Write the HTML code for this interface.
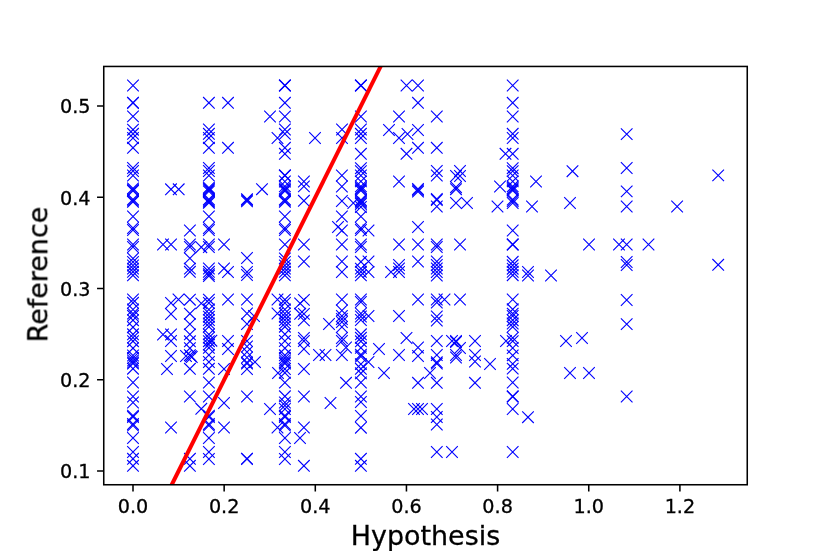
<!DOCTYPE html>
<html><head><meta charset="utf-8"><title>Hypothesis vs Reference</title>
<style>
html,body{margin:0;padding:0;background:#fff;}
svg{display:block;}
text{font-family:"DejaVu Sans","Liberation Sans",sans-serif;fill:#000;stroke:#000;stroke-width:0.3px;}
</style></head>
<body>
<svg width="830" height="554" viewBox="0 0 830 554">
<rect width="830" height="554" fill="#fff"/>
<clipPath id="ax"><rect x="103.75" y="66.45" width="643.5" height="418.3"/></clipPath>
<g clip-path="url(#ax)">
<g fill="none" stroke="#0000ff" stroke-width="1.12">
<path d="M127.2 79.7l11.6 11.6m-11.6 0l11.6 -11.6"/>
<path d="M127.2 96.8l11.6 11.6m-11.6 0l11.6 -11.6"/>
<path d="M127.2 97.2l11.6 11.6m-11.6 0l11.6 -11.6"/>
<path d="M127.2 110.6l11.6 11.6m-11.6 0l11.6 -11.6"/>
<path d="M127.2 123.9l11.6 11.6m-11.6 0l11.6 -11.6"/>
<path d="M127.2 128.0l11.6 11.6m-11.6 0l11.6 -11.6"/>
<path d="M127.2 132.2l11.6 11.6m-11.6 0l11.6 -11.6"/>
<path d="M127.2 142.0l11.6 11.6m-11.6 0l11.6 -11.6"/>
<path d="M127.2 162.2l11.6 11.6m-11.6 0l11.6 -11.6"/>
<path d="M127.2 165.2l11.6 11.6m-11.6 0l11.6 -11.6"/>
<path d="M127.2 169.7l11.6 11.6m-11.6 0l11.6 -11.6"/>
<path d="M127.2 182.6l11.6 11.6m-11.6 0l11.6 -11.6"/>
<path d="M127.2 183.8l11.6 11.6m-11.6 0l11.6 -11.6"/>
<path d="M127.2 185.0l11.6 11.6m-11.6 0l11.6 -11.6"/>
<path d="M127.2 193.6l11.6 11.6m-11.6 0l11.6 -11.6"/>
<path d="M127.2 194.8l11.6 11.6m-11.6 0l11.6 -11.6"/>
<path d="M127.2 196.0l11.6 11.6m-11.6 0l11.6 -11.6"/>
<path d="M127.2 210.7l11.6 11.6m-11.6 0l11.6 -11.6"/>
<path d="M127.2 222.2l11.6 11.6m-11.6 0l11.6 -11.6"/>
<path d="M127.2 224.2l11.6 11.6m-11.6 0l11.6 -11.6"/>
<path d="M127.2 238.7l11.6 11.6m-11.6 0l11.6 -11.6"/>
<path d="M127.2 241.2l11.6 11.6m-11.6 0l11.6 -11.6"/>
<path d="M127.2 252.7l11.6 11.6m-11.6 0l11.6 -11.6"/>
<path d="M127.2 256.2l11.6 11.6m-11.6 0l11.6 -11.6"/>
<path d="M127.2 259.7l11.6 11.6m-11.6 0l11.6 -11.6"/>
<path d="M127.2 262.8l11.6 11.6m-11.6 0l11.6 -11.6"/>
<path d="M127.2 266.0l11.6 11.6m-11.6 0l11.6 -11.6"/>
<path d="M127.2 269.5l11.6 11.6m-11.6 0l11.6 -11.6"/>
<path d="M127.2 293.7l11.6 11.6m-11.6 0l11.6 -11.6"/>
<path d="M127.2 297.0l11.6 11.6m-11.6 0l11.6 -11.6"/>
<path d="M127.2 303.7l11.6 11.6m-11.6 0l11.6 -11.6"/>
<path d="M127.2 307.8l11.6 11.6m-11.6 0l11.6 -11.6"/>
<path d="M127.2 310.0l11.6 11.6m-11.6 0l11.6 -11.6"/>
<path d="M127.2 314.4l11.6 11.6m-11.6 0l11.6 -11.6"/>
<path d="M127.2 321.4l11.6 11.6m-11.6 0l11.6 -11.6"/>
<path d="M127.2 328.5l11.6 11.6m-11.6 0l11.6 -11.6"/>
<path d="M127.2 331.8l11.6 11.6m-11.6 0l11.6 -11.6"/>
<path d="M127.2 335.4l11.6 11.6m-11.6 0l11.6 -11.6"/>
<path d="M127.2 342.4l11.6 11.6m-11.6 0l11.6 -11.6"/>
<path d="M127.2 349.7l11.6 11.6m-11.6 0l11.6 -11.6"/>
<path d="M127.2 352.2l11.6 11.6m-11.6 0l11.6 -11.6"/>
<path d="M127.2 354.7l11.6 11.6m-11.6 0l11.6 -11.6"/>
<path d="M127.2 356.7l11.6 11.6m-11.6 0l11.6 -11.6"/>
<path d="M127.2 357.7l11.6 11.6m-11.6 0l11.6 -11.6"/>
<path d="M127.2 362.9l11.6 11.6m-11.6 0l11.6 -11.6"/>
<path d="M127.2 376.7l11.6 11.6m-11.6 0l11.6 -11.6"/>
<path d="M127.2 390.7l11.6 11.6m-11.6 0l11.6 -11.6"/>
<path d="M127.2 396.7l11.6 11.6m-11.6 0l11.6 -11.6"/>
<path d="M127.2 409.9l11.6 11.6m-11.6 0l11.6 -11.6"/>
<path d="M127.2 411.2l11.6 11.6m-11.6 0l11.6 -11.6"/>
<path d="M127.2 418.2l11.6 11.6m-11.6 0l11.6 -11.6"/>
<path d="M127.2 419.7l11.6 11.6m-11.6 0l11.6 -11.6"/>
<path d="M127.2 432.2l11.6 11.6m-11.6 0l11.6 -11.6"/>
<path d="M127.2 446.2l11.6 11.6m-11.6 0l11.6 -11.6"/>
<path d="M127.2 453.0l11.6 11.6m-11.6 0l11.6 -11.6"/>
<path d="M127.2 460.0l11.6 11.6m-11.6 0l11.6 -11.6"/>
<path d="M165.2 183.5l11.6 11.6m-11.6 0l11.6 -11.6"/>
<path d="M172.9 183.5l11.6 11.6m-11.6 0l11.6 -11.6"/>
<path d="M157.2 238.7l11.6 11.6m-11.6 0l11.6 -11.6"/>
<path d="M165.2 238.7l11.6 11.6m-11.6 0l11.6 -11.6"/>
<path d="M165.2 297.2l11.6 11.6m-11.6 0l11.6 -11.6"/>
<path d="M165.2 308.2l11.6 11.6m-11.6 0l11.6 -11.6"/>
<path d="M172.7 293.7l11.6 11.6m-11.6 0l11.6 -11.6"/>
<path d="M157.2 328.7l11.6 11.6m-11.6 0l11.6 -11.6"/>
<path d="M165.2 328.7l11.6 11.6m-11.6 0l11.6 -11.6"/>
<path d="M165.2 335.2l11.6 11.6m-11.6 0l11.6 -11.6"/>
<path d="M165.2 350.2l11.6 11.6m-11.6 0l11.6 -11.6"/>
<path d="M161.2 363.2l11.6 11.6m-11.6 0l11.6 -11.6"/>
<path d="M165.2 421.7l11.6 11.6m-11.6 0l11.6 -11.6"/>
<path d="M184.1 224.7l11.6 11.6m-11.6 0l11.6 -11.6"/>
<path d="M184.1 238.7l11.6 11.6m-11.6 0l11.6 -11.6"/>
<path d="M184.1 241.2l11.6 11.6m-11.6 0l11.6 -11.6"/>
<path d="M184.1 252.5l11.6 11.6m-11.6 0l11.6 -11.6"/>
<path d="M184.1 262.8l11.6 11.6m-11.6 0l11.6 -11.6"/>
<path d="M184.1 266.0l11.6 11.6m-11.6 0l11.6 -11.6"/>
<path d="M184.1 293.9l11.6 11.6m-11.6 0l11.6 -11.6"/>
<path d="M184.1 307.9l11.6 11.6m-11.6 0l11.6 -11.6"/>
<path d="M184.1 318.3l11.6 11.6m-11.6 0l11.6 -11.6"/>
<path d="M184.1 328.6l11.6 11.6m-11.6 0l11.6 -11.6"/>
<path d="M184.1 335.5l11.6 11.6m-11.6 0l11.6 -11.6"/>
<path d="M184.1 342.4l11.6 11.6m-11.6 0l11.6 -11.6"/>
<path d="M184.1 349.4l11.6 11.6m-11.6 0l11.6 -11.6"/>
<path d="M184.1 363.0l11.6 11.6m-11.6 0l11.6 -11.6"/>
<path d="M184.1 390.7l11.6 11.6m-11.6 0l11.6 -11.6"/>
<path d="M184.1 453.0l11.6 11.6m-11.6 0l11.6 -11.6"/>
<path d="M184.1 460.0l11.6 11.6m-11.6 0l11.6 -11.6"/>
<path d="M180.2 350.2l11.6 11.6m-11.6 0l11.6 -11.6"/>
<path d="M185.1 350.3l11.6 11.6m-11.6 0l11.6 -11.6"/>
<path d="M186.0 351.2l11.6 11.6m-11.6 0l11.6 -11.6"/>
<path d="M195.5 297.6l11.6 11.6m-11.6 0l11.6 -11.6"/>
<path d="M195.5 241.4l11.6 11.6m-11.6 0l11.6 -11.6"/>
<path d="M195.5 403.0l11.6 11.6m-11.6 0l11.6 -11.6"/>
<path d="M203.1 97.0l11.6 11.6m-11.6 0l11.6 -11.6"/>
<path d="M203.1 123.7l11.6 11.6m-11.6 0l11.6 -11.6"/>
<path d="M203.1 128.0l11.6 11.6m-11.6 0l11.6 -11.6"/>
<path d="M203.1 132.2l11.6 11.6m-11.6 0l11.6 -11.6"/>
<path d="M203.1 142.0l11.6 11.6m-11.6 0l11.6 -11.6"/>
<path d="M203.1 162.2l11.6 11.6m-11.6 0l11.6 -11.6"/>
<path d="M203.1 165.2l11.6 11.6m-11.6 0l11.6 -11.6"/>
<path d="M203.1 169.7l11.6 11.6m-11.6 0l11.6 -11.6"/>
<path d="M203.1 181.9l11.6 11.6m-11.6 0l11.6 -11.6"/>
<path d="M203.1 183.1l11.6 11.6m-11.6 0l11.6 -11.6"/>
<path d="M203.1 184.3l11.6 11.6m-11.6 0l11.6 -11.6"/>
<path d="M203.1 185.6l11.6 11.6m-11.6 0l11.6 -11.6"/>
<path d="M203.1 193.5l11.6 11.6m-11.6 0l11.6 -11.6"/>
<path d="M203.1 194.7l11.6 11.6m-11.6 0l11.6 -11.6"/>
<path d="M203.1 195.9l11.6 11.6m-11.6 0l11.6 -11.6"/>
<path d="M203.1 197.1l11.6 11.6m-11.6 0l11.6 -11.6"/>
<path d="M203.1 210.7l11.6 11.6m-11.6 0l11.6 -11.6"/>
<path d="M203.1 222.2l11.6 11.6m-11.6 0l11.6 -11.6"/>
<path d="M203.1 224.2l11.6 11.6m-11.6 0l11.6 -11.6"/>
<path d="M203.1 238.7l11.6 11.6m-11.6 0l11.6 -11.6"/>
<path d="M203.1 241.2l11.6 11.6m-11.6 0l11.6 -11.6"/>
<path d="M203.1 262.7l11.6 11.6m-11.6 0l11.6 -11.6"/>
<path d="M203.1 266.0l11.6 11.6m-11.6 0l11.6 -11.6"/>
<path d="M203.1 268.5l11.6 11.6m-11.6 0l11.6 -11.6"/>
<path d="M203.1 270.2l11.6 11.6m-11.6 0l11.6 -11.6"/>
<path d="M203.1 293.9l11.6 11.6m-11.6 0l11.6 -11.6"/>
<path d="M203.1 297.2l11.6 11.6m-11.6 0l11.6 -11.6"/>
<path d="M203.1 303.7l11.6 11.6m-11.6 0l11.6 -11.6"/>
<path d="M203.1 307.7l11.6 11.6m-11.6 0l11.6 -11.6"/>
<path d="M203.1 310.9l11.6 11.6m-11.6 0l11.6 -11.6"/>
<path d="M203.1 314.2l11.6 11.6m-11.6 0l11.6 -11.6"/>
<path d="M203.1 317.6l11.6 11.6m-11.6 0l11.6 -11.6"/>
<path d="M203.1 320.9l11.6 11.6m-11.6 0l11.6 -11.6"/>
<path d="M203.1 328.6l11.6 11.6m-11.6 0l11.6 -11.6"/>
<path d="M203.1 331.8l11.6 11.6m-11.6 0l11.6 -11.6"/>
<path d="M203.1 335.4l11.6 11.6m-11.6 0l11.6 -11.6"/>
<path d="M203.1 338.7l11.6 11.6m-11.6 0l11.6 -11.6"/>
<path d="M203.1 342.0l11.6 11.6m-11.6 0l11.6 -11.6"/>
<path d="M203.1 349.2l11.6 11.6m-11.6 0l11.6 -11.6"/>
<path d="M203.1 356.2l11.6 11.6m-11.6 0l11.6 -11.6"/>
<path d="M203.1 363.0l11.6 11.6m-11.6 0l11.6 -11.6"/>
<path d="M203.1 376.7l11.6 11.6m-11.6 0l11.6 -11.6"/>
<path d="M203.1 390.7l11.6 11.6m-11.6 0l11.6 -11.6"/>
<path d="M203.1 409.9l11.6 11.6m-11.6 0l11.6 -11.6"/>
<path d="M203.1 411.2l11.6 11.6m-11.6 0l11.6 -11.6"/>
<path d="M203.1 418.2l11.6 11.6m-11.6 0l11.6 -11.6"/>
<path d="M203.1 419.7l11.6 11.6m-11.6 0l11.6 -11.6"/>
<path d="M203.1 432.2l11.6 11.6m-11.6 0l11.6 -11.6"/>
<path d="M203.1 446.2l11.6 11.6m-11.6 0l11.6 -11.6"/>
<path d="M203.1 453.2l11.6 11.6m-11.6 0l11.6 -11.6"/>
<path d="M205.6 334.9l11.6 11.6m-11.6 0l11.6 -11.6"/>
<path d="M222.2 97.0l11.6 11.6m-11.6 0l11.6 -11.6"/>
<path d="M264.2 110.7l11.6 11.6m-11.6 0l11.6 -11.6"/>
<path d="M222.2 142.0l11.6 11.6m-11.6 0l11.6 -11.6"/>
<path d="M271.7 132.2l11.6 11.6m-11.6 0l11.6 -11.6"/>
<path d="M241.2 193.4l11.6 11.6m-11.6 0l11.6 -11.6"/>
<path d="M241.2 194.5l11.6 11.6m-11.6 0l11.6 -11.6"/>
<path d="M241.2 195.6l11.6 11.6m-11.6 0l11.6 -11.6"/>
<path d="M256.2 183.4l11.6 11.6m-11.6 0l11.6 -11.6"/>
<path d="M218.2 238.7l11.6 11.6m-11.6 0l11.6 -11.6"/>
<path d="M241.2 252.2l11.6 11.6m-11.6 0l11.6 -11.6"/>
<path d="M218.2 262.7l11.6 11.6m-11.6 0l11.6 -11.6"/>
<path d="M222.2 266.2l11.6 11.6m-11.6 0l11.6 -11.6"/>
<path d="M241.2 266.2l11.6 11.6m-11.6 0l11.6 -11.6"/>
<path d="M241.2 269.2l11.6 11.6m-11.6 0l11.6 -11.6"/>
<path d="M222.2 293.7l11.6 11.6m-11.6 0l11.6 -11.6"/>
<path d="M241.2 293.7l11.6 11.6m-11.6 0l11.6 -11.6"/>
<path d="M241.2 307.7l11.6 11.6m-11.6 0l11.6 -11.6"/>
<path d="M241.2 318.2l11.6 11.6m-11.6 0l11.6 -11.6"/>
<path d="M248.2 310.2l11.6 11.6m-11.6 0l11.6 -11.6"/>
<path d="M222.2 335.2l11.6 11.6m-11.6 0l11.6 -11.6"/>
<path d="M241.2 335.2l11.6 11.6m-11.6 0l11.6 -11.6"/>
<path d="M222.2 343.2l11.6 11.6m-11.6 0l11.6 -11.6"/>
<path d="M218.2 363.2l11.6 11.6m-11.6 0l11.6 -11.6"/>
<path d="M241.2 340.7l11.6 11.6m-11.6 0l11.6 -11.6"/>
<path d="M241.2 346.2l11.6 11.6m-11.6 0l11.6 -11.6"/>
<path d="M241.2 351.7l11.6 11.6m-11.6 0l11.6 -11.6"/>
<path d="M241.2 356.7l11.6 11.6m-11.6 0l11.6 -11.6"/>
<path d="M241.2 357.7l11.6 11.6m-11.6 0l11.6 -11.6"/>
<path d="M241.2 363.2l11.6 11.6m-11.6 0l11.6 -11.6"/>
<path d="M249.2 356.2l11.6 11.6m-11.6 0l11.6 -11.6"/>
<path d="M272.2 367.2l11.6 11.6m-11.6 0l11.6 -11.6"/>
<path d="M218.2 397.2l11.6 11.6m-11.6 0l11.6 -11.6"/>
<path d="M241.2 390.7l11.6 11.6m-11.6 0l11.6 -11.6"/>
<path d="M264.2 403.2l11.6 11.6m-11.6 0l11.6 -11.6"/>
<path d="M218.2 421.7l11.6 11.6m-11.6 0l11.6 -11.6"/>
<path d="M241.2 452.8l11.6 11.6m-11.6 0l11.6 -11.6"/>
<path d="M241.2 453.2l11.6 11.6m-11.6 0l11.6 -11.6"/>
<path d="M271.7 421.7l11.6 11.6m-11.6 0l11.6 -11.6"/>
<path d="M271.7 293.7l11.6 11.6m-11.6 0l11.6 -11.6"/>
<path d="M271.7 307.7l11.6 11.6m-11.6 0l11.6 -11.6"/>
<path d="M279.1 79.5l11.6 11.6m-11.6 0l11.6 -11.6"/>
<path d="M279.1 79.9l11.6 11.6m-11.6 0l11.6 -11.6"/>
<path d="M279.1 97.0l11.6 11.6m-11.6 0l11.6 -11.6"/>
<path d="M279.1 110.7l11.6 11.6m-11.6 0l11.6 -11.6"/>
<path d="M279.1 123.7l11.6 11.6m-11.6 0l11.6 -11.6"/>
<path d="M279.1 128.0l11.6 11.6m-11.6 0l11.6 -11.6"/>
<path d="M279.1 142.0l11.6 11.6m-11.6 0l11.6 -11.6"/>
<path d="M279.1 148.0l11.6 11.6m-11.6 0l11.6 -11.6"/>
<path d="M279.1 169.5l11.6 11.6m-11.6 0l11.6 -11.6"/>
<path d="M279.1 169.9l11.6 11.6m-11.6 0l11.6 -11.6"/>
<path d="M279.1 175.7l11.6 11.6m-11.6 0l11.6 -11.6"/>
<path d="M279.1 180.6l11.6 11.6m-11.6 0l11.6 -11.6"/>
<path d="M279.1 182.7l11.6 11.6m-11.6 0l11.6 -11.6"/>
<path d="M279.1 184.0l11.6 11.6m-11.6 0l11.6 -11.6"/>
<path d="M279.1 185.3l11.6 11.6m-11.6 0l11.6 -11.6"/>
<path d="M279.1 193.6l11.6 11.6m-11.6 0l11.6 -11.6"/>
<path d="M279.1 194.8l11.6 11.6m-11.6 0l11.6 -11.6"/>
<path d="M279.1 196.0l11.6 11.6m-11.6 0l11.6 -11.6"/>
<path d="M279.1 210.7l11.6 11.6m-11.6 0l11.6 -11.6"/>
<path d="M279.1 222.2l11.6 11.6m-11.6 0l11.6 -11.6"/>
<path d="M279.1 224.2l11.6 11.6m-11.6 0l11.6 -11.6"/>
<path d="M279.1 238.7l11.6 11.6m-11.6 0l11.6 -11.6"/>
<path d="M279.1 252.7l11.6 11.6m-11.6 0l11.6 -11.6"/>
<path d="M279.1 256.2l11.6 11.6m-11.6 0l11.6 -11.6"/>
<path d="M279.1 259.7l11.6 11.6m-11.6 0l11.6 -11.6"/>
<path d="M279.1 262.8l11.6 11.6m-11.6 0l11.6 -11.6"/>
<path d="M279.1 266.0l11.6 11.6m-11.6 0l11.6 -11.6"/>
<path d="M279.1 269.5l11.6 11.6m-11.6 0l11.6 -11.6"/>
<path d="M279.1 293.9l11.6 11.6m-11.6 0l11.6 -11.6"/>
<path d="M279.1 297.2l11.6 11.6m-11.6 0l11.6 -11.6"/>
<path d="M279.1 303.7l11.6 11.6m-11.6 0l11.6 -11.6"/>
<path d="M279.1 307.7l11.6 11.6m-11.6 0l11.6 -11.6"/>
<path d="M279.1 310.9l11.6 11.6m-11.6 0l11.6 -11.6"/>
<path d="M279.1 314.2l11.6 11.6m-11.6 0l11.6 -11.6"/>
<path d="M279.1 317.6l11.6 11.6m-11.6 0l11.6 -11.6"/>
<path d="M279.1 320.9l11.6 11.6m-11.6 0l11.6 -11.6"/>
<path d="M279.1 328.4l11.6 11.6m-11.6 0l11.6 -11.6"/>
<path d="M279.1 335.2l11.6 11.6m-11.6 0l11.6 -11.6"/>
<path d="M279.1 342.4l11.6 11.6m-11.6 0l11.6 -11.6"/>
<path d="M279.1 349.5l11.6 11.6m-11.6 0l11.6 -11.6"/>
<path d="M279.1 352.2l11.6 11.6m-11.6 0l11.6 -11.6"/>
<path d="M279.1 354.7l11.6 11.6m-11.6 0l11.6 -11.6"/>
<path d="M279.1 356.7l11.6 11.6m-11.6 0l11.6 -11.6"/>
<path d="M279.1 357.7l11.6 11.6m-11.6 0l11.6 -11.6"/>
<path d="M279.1 363.2l11.6 11.6m-11.6 0l11.6 -11.6"/>
<path d="M279.1 367.0l11.6 11.6m-11.6 0l11.6 -11.6"/>
<path d="M279.1 376.8l11.6 11.6m-11.6 0l11.6 -11.6"/>
<path d="M279.1 390.5l11.6 11.6m-11.6 0l11.6 -11.6"/>
<path d="M279.1 396.7l11.6 11.6m-11.6 0l11.6 -11.6"/>
<path d="M279.1 399.7l11.6 11.6m-11.6 0l11.6 -11.6"/>
<path d="M279.1 403.2l11.6 11.6m-11.6 0l11.6 -11.6"/>
<path d="M279.1 409.9l11.6 11.6m-11.6 0l11.6 -11.6"/>
<path d="M279.1 411.2l11.6 11.6m-11.6 0l11.6 -11.6"/>
<path d="M279.1 418.2l11.6 11.6m-11.6 0l11.6 -11.6"/>
<path d="M279.1 419.7l11.6 11.6m-11.6 0l11.6 -11.6"/>
<path d="M279.1 432.2l11.6 11.6m-11.6 0l11.6 -11.6"/>
<path d="M279.1 446.2l11.6 11.6m-11.6 0l11.6 -11.6"/>
<path d="M279.1 453.2l11.6 11.6m-11.6 0l11.6 -11.6"/>
<path d="M309.2 132.2l11.6 11.6m-11.6 0l11.6 -11.6"/>
<path d="M336.2 123.7l11.6 11.6m-11.6 0l11.6 -11.6"/>
<path d="M336.2 132.2l11.6 11.6m-11.6 0l11.6 -11.6"/>
<path d="M298.1 175.7l11.6 11.6m-11.6 0l11.6 -11.6"/>
<path d="M298.1 180.6l11.6 11.6m-11.6 0l11.6 -11.6"/>
<path d="M298.1 195.0l11.6 11.6m-11.6 0l11.6 -11.6"/>
<path d="M298.1 238.7l11.6 11.6m-11.6 0l11.6 -11.6"/>
<path d="M298.1 255.7l11.6 11.6m-11.6 0l11.6 -11.6"/>
<path d="M298.1 294.1l11.6 11.6m-11.6 0l11.6 -11.6"/>
<path d="M298.1 308.1l11.6 11.6m-11.6 0l11.6 -11.6"/>
<path d="M298.1 314.6l11.6 11.6m-11.6 0l11.6 -11.6"/>
<path d="M298.1 332.2l11.6 11.6m-11.6 0l11.6 -11.6"/>
<path d="M298.1 335.2l11.6 11.6m-11.6 0l11.6 -11.6"/>
<path d="M298.1 343.2l11.6 11.6m-11.6 0l11.6 -11.6"/>
<path d="M298.1 363.2l11.6 11.6m-11.6 0l11.6 -11.6"/>
<path d="M298.1 390.7l11.6 11.6m-11.6 0l11.6 -11.6"/>
<path d="M298.1 421.7l11.6 11.6m-11.6 0l11.6 -11.6"/>
<path d="M298.1 460.0l11.6 11.6m-11.6 0l11.6 -11.6"/>
<path d="M294.3 297.6l11.6 11.6m-11.6 0l11.6 -11.6"/>
<path d="M294.3 308.0l11.6 11.6m-11.6 0l11.6 -11.6"/>
<path d="M294.2 432.2l11.6 11.6m-11.6 0l11.6 -11.6"/>
<path d="M336.1 169.7l11.6 11.6m-11.6 0l11.6 -11.6"/>
<path d="M336.1 180.7l11.6 11.6m-11.6 0l11.6 -11.6"/>
<path d="M336.1 195.2l11.6 11.6m-11.6 0l11.6 -11.6"/>
<path d="M336.1 210.7l11.6 11.6m-11.6 0l11.6 -11.6"/>
<path d="M336.1 224.7l11.6 11.6m-11.6 0l11.6 -11.6"/>
<path d="M336.1 238.7l11.6 11.6m-11.6 0l11.6 -11.6"/>
<path d="M336.1 255.7l11.6 11.6m-11.6 0l11.6 -11.6"/>
<path d="M336.1 266.2l11.6 11.6m-11.6 0l11.6 -11.6"/>
<path d="M336.1 293.7l11.6 11.6m-11.6 0l11.6 -11.6"/>
<path d="M336.1 304.7l11.6 11.6m-11.6 0l11.6 -11.6"/>
<path d="M336.1 310.2l11.6 11.6m-11.6 0l11.6 -11.6"/>
<path d="M336.1 313.2l11.6 11.6m-11.6 0l11.6 -11.6"/>
<path d="M336.1 316.2l11.6 11.6m-11.6 0l11.6 -11.6"/>
<path d="M336.1 321.2l11.6 11.6m-11.6 0l11.6 -11.6"/>
<path d="M336.1 332.2l11.6 11.6m-11.6 0l11.6 -11.6"/>
<path d="M336.1 335.2l11.6 11.6m-11.6 0l11.6 -11.6"/>
<path d="M336.1 349.2l11.6 11.6m-11.6 0l11.6 -11.6"/>
<path d="M347.5 197.2l11.6 11.6m-11.6 0l11.6 -11.6"/>
<path d="M332.2 221.2l11.6 11.6m-11.6 0l11.6 -11.6"/>
<path d="M323.2 318.2l11.6 11.6m-11.6 0l11.6 -11.6"/>
<path d="M340.2 341.7l11.6 11.6m-11.6 0l11.6 -11.6"/>
<path d="M313.2 349.2l11.6 11.6m-11.6 0l11.6 -11.6"/>
<path d="M319.7 349.2l11.6 11.6m-11.6 0l11.6 -11.6"/>
<path d="M324.7 397.2l11.6 11.6m-11.6 0l11.6 -11.6"/>
<path d="M340.2 377.0l11.6 11.6m-11.6 0l11.6 -11.6"/>
<path d="M355.1 79.5l11.6 11.6m-11.6 0l11.6 -11.6"/>
<path d="M355.1 79.9l11.6 11.6m-11.6 0l11.6 -11.6"/>
<path d="M355.1 110.7l11.6 11.6m-11.6 0l11.6 -11.6"/>
<path d="M355.1 123.7l11.6 11.6m-11.6 0l11.6 -11.6"/>
<path d="M355.1 128.0l11.6 11.6m-11.6 0l11.6 -11.6"/>
<path d="M355.1 132.2l11.6 11.6m-11.6 0l11.6 -11.6"/>
<path d="M355.1 148.0l11.6 11.6m-11.6 0l11.6 -11.6"/>
<path d="M355.1 162.4l11.6 11.6m-11.6 0l11.6 -11.6"/>
<path d="M355.1 165.3l11.6 11.6m-11.6 0l11.6 -11.6"/>
<path d="M355.1 169.7l11.6 11.6m-11.6 0l11.6 -11.6"/>
<path d="M355.1 175.6l11.6 11.6m-11.6 0l11.6 -11.6"/>
<path d="M355.1 180.6l11.6 11.6m-11.6 0l11.6 -11.6"/>
<path d="M355.1 182.2l11.6 11.6m-11.6 0l11.6 -11.6"/>
<path d="M355.1 183.5l11.6 11.6m-11.6 0l11.6 -11.6"/>
<path d="M355.1 184.8l11.6 11.6m-11.6 0l11.6 -11.6"/>
<path d="M355.1 194.2l11.6 11.6m-11.6 0l11.6 -11.6"/>
<path d="M355.1 195.5l11.6 11.6m-11.6 0l11.6 -11.6"/>
<path d="M355.1 196.8l11.6 11.6m-11.6 0l11.6 -11.6"/>
<path d="M355.1 198.2l11.6 11.6m-11.6 0l11.6 -11.6"/>
<path d="M355.1 201.2l11.6 11.6m-11.6 0l11.6 -11.6"/>
<path d="M355.1 210.7l11.6 11.6m-11.6 0l11.6 -11.6"/>
<path d="M355.1 222.2l11.6 11.6m-11.6 0l11.6 -11.6"/>
<path d="M355.1 224.2l11.6 11.6m-11.6 0l11.6 -11.6"/>
<path d="M355.1 238.7l11.6 11.6m-11.6 0l11.6 -11.6"/>
<path d="M355.1 241.2l11.6 11.6m-11.6 0l11.6 -11.6"/>
<path d="M355.1 256.0l11.6 11.6m-11.6 0l11.6 -11.6"/>
<path d="M355.1 262.8l11.6 11.6m-11.6 0l11.6 -11.6"/>
<path d="M355.1 266.0l11.6 11.6m-11.6 0l11.6 -11.6"/>
<path d="M355.1 269.5l11.6 11.6m-11.6 0l11.6 -11.6"/>
<path d="M355.1 293.7l11.6 11.6m-11.6 0l11.6 -11.6"/>
<path d="M355.1 296.2l11.6 11.6m-11.6 0l11.6 -11.6"/>
<path d="M355.1 307.7l11.6 11.6m-11.6 0l11.6 -11.6"/>
<path d="M355.1 310.7l11.6 11.6m-11.6 0l11.6 -11.6"/>
<path d="M355.1 314.2l11.6 11.6m-11.6 0l11.6 -11.6"/>
<path d="M355.1 328.5l11.6 11.6m-11.6 0l11.6 -11.6"/>
<path d="M355.1 332.0l11.6 11.6m-11.6 0l11.6 -11.6"/>
<path d="M355.1 335.5l11.6 11.6m-11.6 0l11.6 -11.6"/>
<path d="M355.1 342.0l11.6 11.6m-11.6 0l11.6 -11.6"/>
<path d="M355.1 348.9l11.6 11.6m-11.6 0l11.6 -11.6"/>
<path d="M355.1 350.7l11.6 11.6m-11.6 0l11.6 -11.6"/>
<path d="M355.1 358.3l11.6 11.6m-11.6 0l11.6 -11.6"/>
<path d="M355.1 363.0l11.6 11.6m-11.6 0l11.6 -11.6"/>
<path d="M355.1 367.5l11.6 11.6m-11.6 0l11.6 -11.6"/>
<path d="M355.1 376.7l11.6 11.6m-11.6 0l11.6 -11.6"/>
<path d="M355.1 390.7l11.6 11.6m-11.6 0l11.6 -11.6"/>
<path d="M355.1 396.2l11.6 11.6m-11.6 0l11.6 -11.6"/>
<path d="M355.1 410.2l11.6 11.6m-11.6 0l11.6 -11.6"/>
<path d="M355.1 421.9l11.6 11.6m-11.6 0l11.6 -11.6"/>
<path d="M355.1 453.0l11.6 11.6m-11.6 0l11.6 -11.6"/>
<path d="M355.1 460.0l11.6 11.6m-11.6 0l11.6 -11.6"/>
<path d="M400.7 79.7l11.6 11.6m-11.6 0l11.6 -11.6"/>
<path d="M412.2 79.7l11.6 11.6m-11.6 0l11.6 -11.6"/>
<path d="M412.2 97.0l11.6 11.6m-11.6 0l11.6 -11.6"/>
<path d="M393.2 110.7l11.6 11.6m-11.6 0l11.6 -11.6"/>
<path d="M383.2 124.2l11.6 11.6m-11.6 0l11.6 -11.6"/>
<path d="M393.2 132.2l11.6 11.6m-11.6 0l11.6 -11.6"/>
<path d="M401.7 128.2l11.6 11.6m-11.6 0l11.6 -11.6"/>
<path d="M412.2 124.2l11.6 11.6m-11.6 0l11.6 -11.6"/>
<path d="M412.2 142.0l11.6 11.6m-11.6 0l11.6 -11.6"/>
<path d="M400.7 148.0l11.6 11.6m-11.6 0l11.6 -11.6"/>
<path d="M393.2 175.7l11.6 11.6m-11.6 0l11.6 -11.6"/>
<path d="M412.2 183.2l11.6 11.6m-11.6 0l11.6 -11.6"/>
<path d="M412.2 184.5l11.6 11.6m-11.6 0l11.6 -11.6"/>
<path d="M412.2 185.8l11.6 11.6m-11.6 0l11.6 -11.6"/>
<path d="M362.7 224.7l11.6 11.6m-11.6 0l11.6 -11.6"/>
<path d="M362.7 255.7l11.6 11.6m-11.6 0l11.6 -11.6"/>
<path d="M393.2 238.7l11.6 11.6m-11.6 0l11.6 -11.6"/>
<path d="M412.2 221.2l11.6 11.6m-11.6 0l11.6 -11.6"/>
<path d="M412.2 238.7l11.6 11.6m-11.6 0l11.6 -11.6"/>
<path d="M412.2 255.7l11.6 11.6m-11.6 0l11.6 -11.6"/>
<path d="M362.7 266.2l11.6 11.6m-11.6 0l11.6 -11.6"/>
<path d="M385.2 266.2l11.6 11.6m-11.6 0l11.6 -11.6"/>
<path d="M393.2 259.2l11.6 11.6m-11.6 0l11.6 -11.6"/>
<path d="M393.2 262.7l11.6 11.6m-11.6 0l11.6 -11.6"/>
<path d="M393.2 266.2l11.6 11.6m-11.6 0l11.6 -11.6"/>
<path d="M412.2 293.7l11.6 11.6m-11.6 0l11.6 -11.6"/>
<path d="M362.7 310.2l11.6 11.6m-11.6 0l11.6 -11.6"/>
<path d="M393.2 310.2l11.6 11.6m-11.6 0l11.6 -11.6"/>
<path d="M400.7 332.2l11.6 11.6m-11.6 0l11.6 -11.6"/>
<path d="M412.2 341.7l11.6 11.6m-11.6 0l11.6 -11.6"/>
<path d="M373.2 343.2l11.6 11.6m-11.6 0l11.6 -11.6"/>
<path d="M362.7 356.2l11.6 11.6m-11.6 0l11.6 -11.6"/>
<path d="M378.2 367.2l11.6 11.6m-11.6 0l11.6 -11.6"/>
<path d="M393.2 349.2l11.6 11.6m-11.6 0l11.6 -11.6"/>
<path d="M412.2 350.2l11.6 11.6m-11.6 0l11.6 -11.6"/>
<path d="M424.2 367.2l11.6 11.6m-11.6 0l11.6 -11.6"/>
<path d="M412.2 377.0l11.6 11.6m-11.6 0l11.6 -11.6"/>
<path d="M408.2 403.2l11.6 11.6m-11.6 0l11.6 -11.6"/>
<path d="M412.2 403.2l11.6 11.6m-11.6 0l11.6 -11.6"/>
<path d="M416.2 403.2l11.6 11.6m-11.6 0l11.6 -11.6"/>
<path d="M431.0 110.7l11.6 11.6m-11.6 0l11.6 -11.6"/>
<path d="M431.0 142.0l11.6 11.6m-11.6 0l11.6 -11.6"/>
<path d="M431.0 165.2l11.6 11.6m-11.6 0l11.6 -11.6"/>
<path d="M431.0 169.7l11.6 11.6m-11.6 0l11.6 -11.6"/>
<path d="M431.0 193.2l11.6 11.6m-11.6 0l11.6 -11.6"/>
<path d="M431.0 194.2l11.6 11.6m-11.6 0l11.6 -11.6"/>
<path d="M431.0 200.7l11.6 11.6m-11.6 0l11.6 -11.6"/>
<path d="M431.0 238.7l11.6 11.6m-11.6 0l11.6 -11.6"/>
<path d="M431.0 241.2l11.6 11.6m-11.6 0l11.6 -11.6"/>
<path d="M431.0 255.7l11.6 11.6m-11.6 0l11.6 -11.6"/>
<path d="M431.0 259.2l11.6 11.6m-11.6 0l11.6 -11.6"/>
<path d="M431.0 262.7l11.6 11.6m-11.6 0l11.6 -11.6"/>
<path d="M431.0 266.2l11.6 11.6m-11.6 0l11.6 -11.6"/>
<path d="M431.0 269.7l11.6 11.6m-11.6 0l11.6 -11.6"/>
<path d="M431.0 293.7l11.6 11.6m-11.6 0l11.6 -11.6"/>
<path d="M431.0 296.7l11.6 11.6m-11.6 0l11.6 -11.6"/>
<path d="M431.0 310.7l11.6 11.6m-11.6 0l11.6 -11.6"/>
<path d="M431.0 314.7l11.6 11.6m-11.6 0l11.6 -11.6"/>
<path d="M431.0 335.2l11.6 11.6m-11.6 0l11.6 -11.6"/>
<path d="M431.0 349.2l11.6 11.6m-11.6 0l11.6 -11.6"/>
<path d="M431.0 356.5l11.6 11.6m-11.6 0l11.6 -11.6"/>
<path d="M431.0 357.8l11.6 11.6m-11.6 0l11.6 -11.6"/>
<path d="M431.0 377.0l11.6 11.6m-11.6 0l11.6 -11.6"/>
<path d="M431.0 403.2l11.6 11.6m-11.6 0l11.6 -11.6"/>
<path d="M431.0 411.2l11.6 11.6m-11.6 0l11.6 -11.6"/>
<path d="M431.0 418.7l11.6 11.6m-11.6 0l11.6 -11.6"/>
<path d="M431.0 446.2l11.6 11.6m-11.6 0l11.6 -11.6"/>
<path d="M454.2 165.2l11.6 11.6m-11.6 0l11.6 -11.6"/>
<path d="M454.2 170.2l11.6 11.6m-11.6 0l11.6 -11.6"/>
<path d="M450.2 170.2l11.6 11.6m-11.6 0l11.6 -11.6"/>
<path d="M450.2 181.4l11.6 11.6m-11.6 0l11.6 -11.6"/>
<path d="M450.2 183.4l11.6 11.6m-11.6 0l11.6 -11.6"/>
<path d="M450.2 197.2l11.6 11.6m-11.6 0l11.6 -11.6"/>
<path d="M461.2 197.2l11.6 11.6m-11.6 0l11.6 -11.6"/>
<path d="M494.2 180.7l11.6 11.6m-11.6 0l11.6 -11.6"/>
<path d="M491.7 200.7l11.6 11.6m-11.6 0l11.6 -11.6"/>
<path d="M454.2 238.7l11.6 11.6m-11.6 0l11.6 -11.6"/>
<path d="M438.7 293.7l11.6 11.6m-11.6 0l11.6 -11.6"/>
<path d="M454.2 293.7l11.6 11.6m-11.6 0l11.6 -11.6"/>
<path d="M446.2 335.2l11.6 11.6m-11.6 0l11.6 -11.6"/>
<path d="M450.2 335.2l11.6 11.6m-11.6 0l11.6 -11.6"/>
<path d="M450.2 336.2l11.6 11.6m-11.6 0l11.6 -11.6"/>
<path d="M469.2 335.2l11.6 11.6m-11.6 0l11.6 -11.6"/>
<path d="M500.2 335.2l11.6 11.6m-11.6 0l11.6 -11.6"/>
<path d="M454.2 342.2l11.6 11.6m-11.6 0l11.6 -11.6"/>
<path d="M450.2 349.2l11.6 11.6m-11.6 0l11.6 -11.6"/>
<path d="M450.2 351.7l11.6 11.6m-11.6 0l11.6 -11.6"/>
<path d="M469.2 349.2l11.6 11.6m-11.6 0l11.6 -11.6"/>
<path d="M469.2 355.7l11.6 11.6m-11.6 0l11.6 -11.6"/>
<path d="M484.2 358.2l11.6 11.6m-11.6 0l11.6 -11.6"/>
<path d="M469.2 377.0l11.6 11.6m-11.6 0l11.6 -11.6"/>
<path d="M446.2 446.2l11.6 11.6m-11.6 0l11.6 -11.6"/>
<path d="M499.7 148.0l11.6 11.6m-11.6 0l11.6 -11.6"/>
<path d="M506.9 79.7l11.6 11.6m-11.6 0l11.6 -11.6"/>
<path d="M506.9 97.0l11.6 11.6m-11.6 0l11.6 -11.6"/>
<path d="M506.9 110.7l11.6 11.6m-11.6 0l11.6 -11.6"/>
<path d="M506.9 128.0l11.6 11.6m-11.6 0l11.6 -11.6"/>
<path d="M506.9 132.2l11.6 11.6m-11.6 0l11.6 -11.6"/>
<path d="M506.9 148.0l11.6 11.6m-11.6 0l11.6 -11.6"/>
<path d="M506.9 162.4l11.6 11.6m-11.6 0l11.6 -11.6"/>
<path d="M506.9 165.3l11.6 11.6m-11.6 0l11.6 -11.6"/>
<path d="M506.9 169.7l11.6 11.6m-11.6 0l11.6 -11.6"/>
<path d="M506.9 175.6l11.6 11.6m-11.6 0l11.6 -11.6"/>
<path d="M506.9 180.6l11.6 11.6m-11.6 0l11.6 -11.6"/>
<path d="M506.9 182.2l11.6 11.6m-11.6 0l11.6 -11.6"/>
<path d="M506.9 183.5l11.6 11.6m-11.6 0l11.6 -11.6"/>
<path d="M506.9 184.8l11.6 11.6m-11.6 0l11.6 -11.6"/>
<path d="M506.9 193.7l11.6 11.6m-11.6 0l11.6 -11.6"/>
<path d="M506.9 195.2l11.6 11.6m-11.6 0l11.6 -11.6"/>
<path d="M506.9 197.2l11.6 11.6m-11.6 0l11.6 -11.6"/>
<path d="M506.9 224.7l11.6 11.6m-11.6 0l11.6 -11.6"/>
<path d="M506.9 238.5l11.6 11.6m-11.6 0l11.6 -11.6"/>
<path d="M506.9 238.9l11.6 11.6m-11.6 0l11.6 -11.6"/>
<path d="M506.9 256.0l11.6 11.6m-11.6 0l11.6 -11.6"/>
<path d="M506.9 259.5l11.6 11.6m-11.6 0l11.6 -11.6"/>
<path d="M506.9 262.9l11.6 11.6m-11.6 0l11.6 -11.6"/>
<path d="M506.9 266.0l11.6 11.6m-11.6 0l11.6 -11.6"/>
<path d="M506.9 269.4l11.6 11.6m-11.6 0l11.6 -11.6"/>
<path d="M506.9 293.7l11.6 11.6m-11.6 0l11.6 -11.6"/>
<path d="M506.9 303.5l11.6 11.6m-11.6 0l11.6 -11.6"/>
<path d="M506.9 307.8l11.6 11.6m-11.6 0l11.6 -11.6"/>
<path d="M506.9 310.2l11.6 11.6m-11.6 0l11.6 -11.6"/>
<path d="M506.9 314.4l11.6 11.6m-11.6 0l11.6 -11.6"/>
<path d="M506.9 317.7l11.6 11.6m-11.6 0l11.6 -11.6"/>
<path d="M506.9 321.0l11.6 11.6m-11.6 0l11.6 -11.6"/>
<path d="M506.9 332.1l11.6 11.6m-11.6 0l11.6 -11.6"/>
<path d="M506.9 335.3l11.6 11.6m-11.6 0l11.6 -11.6"/>
<path d="M506.9 342.2l11.6 11.6m-11.6 0l11.6 -11.6"/>
<path d="M506.9 349.6l11.6 11.6m-11.6 0l11.6 -11.6"/>
<path d="M506.9 358.1l11.6 11.6m-11.6 0l11.6 -11.6"/>
<path d="M506.9 362.8l11.6 11.6m-11.6 0l11.6 -11.6"/>
<path d="M506.9 376.7l11.6 11.6m-11.6 0l11.6 -11.6"/>
<path d="M506.9 390.5l11.6 11.6m-11.6 0l11.6 -11.6"/>
<path d="M506.9 390.9l11.6 11.6m-11.6 0l11.6 -11.6"/>
<path d="M506.9 403.2l11.6 11.6m-11.6 0l11.6 -11.6"/>
<path d="M506.9 446.2l11.6 11.6m-11.6 0l11.6 -11.6"/>
<path d="M530.2 175.7l11.6 11.6m-11.6 0l11.6 -11.6"/>
<path d="M526.2 200.7l11.6 11.6m-11.6 0l11.6 -11.6"/>
<path d="M566.7 165.4l11.6 11.6m-11.6 0l11.6 -11.6"/>
<path d="M564.2 197.2l11.6 11.6m-11.6 0l11.6 -11.6"/>
<path d="M522.2 266.2l11.6 11.6m-11.6 0l11.6 -11.6"/>
<path d="M522.2 269.7l11.6 11.6m-11.6 0l11.6 -11.6"/>
<path d="M545.2 269.7l11.6 11.6m-11.6 0l11.6 -11.6"/>
<path d="M560.2 335.2l11.6 11.6m-11.6 0l11.6 -11.6"/>
<path d="M576.2 332.2l11.6 11.6m-11.6 0l11.6 -11.6"/>
<path d="M564.2 367.2l11.6 11.6m-11.6 0l11.6 -11.6"/>
<path d="M522.2 411.4l11.6 11.6m-11.6 0l11.6 -11.6"/>
<path d="M620.9 128.3l11.6 11.6m-11.6 0l11.6 -11.6"/>
<path d="M620.9 162.2l11.6 11.6m-11.6 0l11.6 -11.6"/>
<path d="M620.9 185.6l11.6 11.6m-11.6 0l11.6 -11.6"/>
<path d="M620.9 200.7l11.6 11.6m-11.6 0l11.6 -11.6"/>
<path d="M620.9 238.7l11.6 11.6m-11.6 0l11.6 -11.6"/>
<path d="M620.9 256.2l11.6 11.6m-11.6 0l11.6 -11.6"/>
<path d="M620.9 259.2l11.6 11.6m-11.6 0l11.6 -11.6"/>
<path d="M620.9 294.2l11.6 11.6m-11.6 0l11.6 -11.6"/>
<path d="M620.9 318.3l11.6 11.6m-11.6 0l11.6 -11.6"/>
<path d="M620.9 390.7l11.6 11.6m-11.6 0l11.6 -11.6"/>
<path d="M712.4 169.6l11.6 11.6m-11.6 0l11.6 -11.6"/>
<path d="M671.3 200.7l11.6 11.6m-11.6 0l11.6 -11.6"/>
<path d="M583.2 238.7l11.6 11.6m-11.6 0l11.6 -11.6"/>
<path d="M613.2 238.7l11.6 11.6m-11.6 0l11.6 -11.6"/>
<path d="M642.7 238.7l11.6 11.6m-11.6 0l11.6 -11.6"/>
<path d="M712.4 259.0l11.6 11.6m-11.6 0l11.6 -11.6"/>
<path d="M583.2 367.2l11.6 11.6m-11.6 0l11.6 -11.6"/>
</g>
<line x1="171.75" y1="484.75" x2="380.62" y2="66.45" stroke="#ff0000" stroke-width="4.0" stroke-linecap="square"/>
</g>
<path d="M133.00 484.75v6.7M224.15 484.75v6.7M315.30 484.75v6.7M406.45 484.75v6.7M497.60 484.75v6.7M588.75 484.75v6.7M679.90 484.75v6.7M103.75 471.08h-6.7M103.75 379.81h-6.7M103.75 288.54h-6.7M103.75 197.27h-6.7M103.75 106.00h-6.7" stroke="#000" stroke-width="1.54" fill="none"/>
<rect x="103.75" y="66.45" width="643.5" height="418.3" fill="none" stroke="#000" stroke-width="1.54"/>
<g style="filter:grayscale(1)">
<g font-size="19.2">
<text x="133.00" y="513" text-anchor="middle">0.0</text>
<text x="224.15" y="513" text-anchor="middle">0.2</text>
<text x="315.30" y="513" text-anchor="middle">0.4</text>
<text x="406.45" y="513" text-anchor="middle">0.6</text>
<text x="497.60" y="513" text-anchor="middle">0.8</text>
<text x="588.75" y="513" text-anchor="middle">1.0</text>
<text x="679.90" y="513" text-anchor="middle">1.2</text>
<text x="90.5" y="478.38" text-anchor="end">0.1</text>
<text x="90.5" y="387.11" text-anchor="end">0.2</text>
<text x="90.5" y="295.84" text-anchor="end">0.3</text>
<text x="90.5" y="204.57" text-anchor="end">0.4</text>
<text x="90.5" y="113.30" text-anchor="end">0.5</text>
</g>
<text x="425.5" y="544.5" font-size="26.9" text-anchor="middle">Hypothesis</text>
<text transform="translate(47.3 274.5) rotate(-90)" font-size="26.9" text-anchor="middle">Reference</text>
</g>
</svg>
</body></html>
